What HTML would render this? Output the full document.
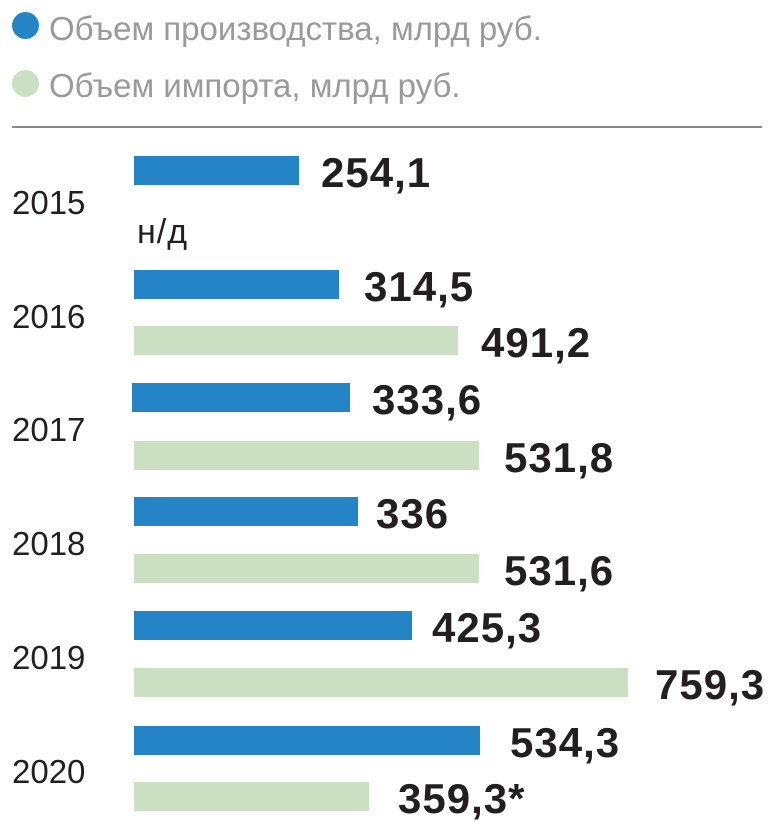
<!DOCTYPE html><html><head><meta charset="utf-8"><style>
body{margin:0;width:773px;height:829px;background:#fff;position:relative;overflow:hidden;font-family:"Liberation Sans",sans-serif}
.a{position:absolute}
.b{position:absolute;height:29px;left:134px}
.bl{background:#2584c6}.gr{background:#cbe0c2}
.v{position:absolute;font-weight:bold;font-size:42px;color:#231f20;line-height:1;letter-spacing:1px}
.y{position:absolute;left:12px;font-size:33px;color:#231f20;line-height:1}
.d{position:absolute;left:12px;width:27px;height:27px;border-radius:50%}
.l{position:absolute;left:49px;font-size:33px;color:#9a9a9a;line-height:1}
</style></head><body>
<div class="d bl" style="top:12px"></div><div class="l" style="top:12px">Объем производства, млрд руб.</div>
<div class="d gr" style="top:70px"></div><div class="l" style="top:69px">Объем импорта, млрд руб.</div>
<div class="a" style="left:12px;top:126px;width:750px;height:2px;background:#8a8a8a"></div>

<div class="y" style="top:186px">2015</div>
<div class="b bl" style="top:156px;width:165px"></div><div class="v" style="left:321px;top:152px">254,1</div>
<div class="a" style="left:137px;top:215px;font-size:34px;letter-spacing:1px;color:#231f20;line-height:1">н/д</div>

<div class="y" style="top:300px">2016</div>
<div class="b bl" style="top:270px;width:205px"></div><div class="v" style="left:364px;top:266px">314,5</div>
<div class="b gr" style="top:326px;width:324px"></div><div class="v" style="left:481px;top:322px">491,2</div>

<div class="y" style="top:413px">2017</div>
<div class="b bl" style="top:383px;left:132px;width:218px"></div><div class="v" style="left:372px;top:379px">333,6</div>
<div class="b gr" style="top:441px;width:345px"></div><div class="v" style="left:504px;top:437px">531,8</div>

<div class="y" style="top:527px">2018</div>
<div class="b bl" style="top:497px;width:224px"></div><div class="v" style="left:376px;top:493px">336</div>
<div class="b gr" style="top:554px;width:345px"></div><div class="v" style="left:504px;top:550px">531,6</div>

<div class="y" style="top:641px">2019</div>
<div class="b bl" style="top:611px;width:278px"></div><div class="v" style="left:432px;top:607px">425,3</div>
<div class="b gr" style="top:668px;width:494px"></div><div class="v" style="left:655px;top:664px">759,3</div>

<div class="y" style="top:755px">2020</div>
<div class="b bl" style="top:726px;width:346px"></div><div class="v" style="left:510px;top:722px">534,3</div>
<div class="b gr" style="top:782px;width:235px"></div><div class="v" style="left:398px;top:778px">359,3*</div>
</body></html>
